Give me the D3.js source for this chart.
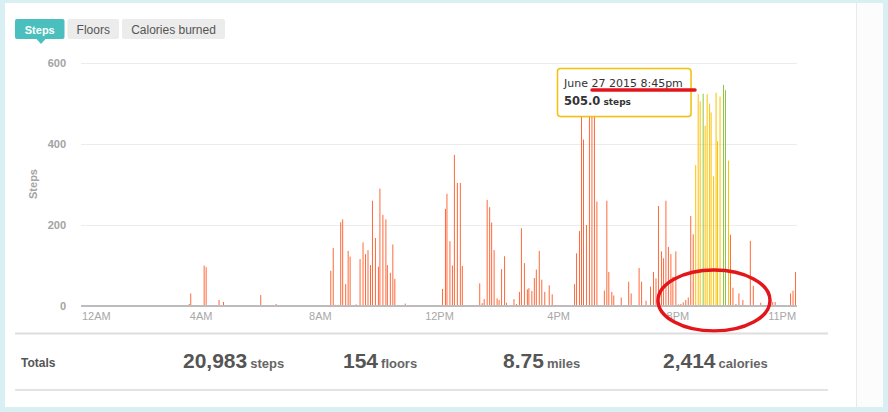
<!DOCTYPE html>
<html><head><meta charset="utf-8">
<script src="https://cdn.jsdelivr.net/npm/d3@7"></script>
<style>
html,body{margin:0;padding:0;background:#d8eff3;}
svg{display:block;font-family:"Liberation Sans",Arial,sans-serif;}
</style></head><body>
<svg id="c" width="888" height="412"></svg>
<script>
// ---- data (minute of day, steps in that minute) ----
const minutes = [216,219,246,250,276,285,360,391,
 501,506,510,516,521,525,531,536,540,552,560,566,571,576,581,585,591,597,600,606,612,615,621,626,630,651,
 726,732,735,741,746,750,756,762,766,
 801,806,810,816,821,825,830,836,840,845,851,855,870,875,881,885,891,897,900,906,911,915,921,926,932,941,947,
 992,996,1002,1006,1010,1016,1022,1027,1032,1037,
 1052,1057,1061,1067,1071,1086,1101,1106,1122,1127,1136,1145,1151,1156,1161,
 1167,1171,1176,1181,1186,1190,1196,1201,1206,1211,1216,1221,1226,1231,
 1236,1241,1245,1251,1255,1259,1264,1267,1272,1277,1280,1285,1292,1296,1302,
 1306,1311,1317,1323,1331,1346,1352,1367,1391,1396,1427,1432,1437];
const steps = [5,31,100,96,15,10,27,5,
 87,143,3,3,207,214,54,136,122,4,116,157,128,138,101,260,168,97,290,225,214,101,82,152,67,6,
 42,240,277,160,100,373,304,304,99,
 56,7,17,262,244,206,138,19,15,91,123,8,17,5,35,192,106,41,44,37,69,90,136,65,35,51,29,
 54,130,185,480,411,200,500,510,490,258,
 38,260,84,35,26,21,60,31,94,60,13,48,84,68,247,
 135,118,260,146,128,72,135,4,5,9,15,21,222,177,
 348,523,505,524,445,523,500,478,320,527,407,517,546,533,359,
 176,45,5,31,15,161,50,8,10,10,31,38,84];
const highlightRange = [1236, 1302];      // highlighted (yellow) period
const greenMinutes = [1251, 1292, 1296];  // very active minutes
const tooltipMinute = 1245;
const tooltipDate = "June 27 2015 8:45pm";

const yTicks = [0, 200, 400, 600];
const xTickMinutes = [0, 240, 480, 720, 960, 1200, 1410];
const xTickLabels = ["12AM", "4AM", "8AM", "12PM", "4PM", "8PM", "11PM"];
const tabs = ["Steps", "Floors", "Calories burned"];
const totalsValues = ["20,983", "154", "8.75", "2,414"];
const totalsUnits = ["steps", "floors", "miles", "calories"];

// ---- drawing ----
const svg = d3.select("#c");
const x = d3.scaleLinear().domain([0, 1440]).range([82, 797]);
const y = d3.scaleLinear().domain([0, 600]).range([306, 63]);

// panels
svg.append("rect").attr("x",5).attr("y",3).attr("width",878).attr("height",404).attr("fill","#fff");
svg.append("rect").attr("x",857).attr("y",3).attr("width",26).attr("height",404).attr("fill","#fcfcfc");
svg.append("line").attr("x1",856.5).attr("x2",856.5).attr("y1",3).attr("y2",407).attr("stroke","#e9e9e9");

// tabs
const tabX = [15, 67.5, 122], tabW = [49.5, 51.5, 103];
tabs.forEach((t,i)=>{
  svg.append("rect").attr("x",tabX[i]).attr("y",19).attr("width",tabW[i]).attr("height",20).attr("rx",2)
    .attr("fill", i===0 ? "#4abfbd" : "#ececec");
  svg.append("text").attr("x",tabX[i]+tabW[i]/2).attr("y",33.5).attr("text-anchor","middle")
    .attr("font-size", i===0 ? 11 : 12).attr("font-weight", i===0 ? "bold" : "normal")
    .attr("fill", i===0 ? "#fff" : "#555").text(t);
});
svg.append("path").attr("d","M36.5,39 L45.5,39 L41,44 Z").attr("fill","#4abfbd");

// grid + y labels
svg.selectAll(".grid").data(yTicks.filter(d=>d>0)).enter().append("line")
  .attr("x1",81).attr("x2",797).attr("y1",d=>Math.round(y(d))+0.5).attr("y2",d=>Math.round(y(d))+0.5)
  .attr("stroke","#ececec");
svg.selectAll(".ylab").data(yTicks).enter().append("text")
  .attr("x",66).attr("y",d=>y(d)).attr("dy","0.35em").attr("text-anchor","end")
  .attr("font-size",11).attr("font-weight","bold").attr("fill","#a3a3a3").text(d=>d);
svg.append("text").attr("transform","translate(37,184) rotate(-90)").attr("text-anchor","middle")
  .attr("font-size",11).attr("font-weight","bold").attr("fill","#a3a3a3").text("Steps");

// bars
const idx = d3.range(minutes.length);
svg.append("g").selectAll("rect").data(idx).enter().append("rect")
  .attr("x", i => x(minutes[i]) - 0.5)
  .attr("width", 1)
  .attr("y", i => y(steps[i]))
  .attr("height", i => y(0) - y(steps[i]))
  .attr("fill", i => {
    const m = minutes[i];
    if (greenMinutes.includes(m)) return "#8cc63f";
    if (m >= highlightRange[0] && m <= highlightRange[1]) return "#fcc200";
    return "#ff6a3c";
  });

// x axis line
svg.append("line").attr("x1",81).attr("x2",797).attr("y1",306).attr("y2",306)
  .attr("stroke","#bcbcbc").attr("stroke-width",2);

// x labels (justified inside plot)
xTickMinutes.forEach((m,i)=>{
  const t = svg.append("text").attr("x",x(m)).attr("y",319.5).attr("text-anchor","middle")
    .attr("font-size",11).attr("fill","#a8a8a8").text(xTickLabels[i]);
  const w = t.node().getComputedTextLength();
  if (x(m) - w/2 < 82) t.attr("text-anchor","start").attr("x",82);
  if (x(m) + w/2 > 797) t.attr("text-anchor","end").attr("x",797);
});

// tooltip
const tip = svg.append("g");
tip.append("rect").attr("x",558.5).attr("y",69.5).attr("width",133.5).attr("height",48).attr("rx",3)
  .attr("fill","rgba(0,0,0,0.08)");
tip.append("rect").attr("x",557.5).attr("y",68.5).attr("width",133.5).attr("height",48).attr("rx",3)
  .attr("fill","#fff").attr("stroke","#f3c20a").attr("stroke-width",1.5);
tip.append("text").attr("x",564).attr("y",86.5).attr("font-family","DejaVu Sans").attr("font-size",11)
  .attr("fill","#333").text(tooltipDate);
const tv = tip.append("text").attr("x",564).attr("y",104.5).attr("font-family","DejaVu Sans")
  .attr("font-weight","bold").attr("fill","#333");
tv.append("tspan").attr("font-size",11.5).text(steps[minutes.indexOf(tooltipMinute)].toFixed(1));
tv.append("tspan").attr("font-size",9).attr("dx",3).text("steps");

// annotations (red marks)
svg.append("line").attr("x1",592).attr("x2",695).attr("y1",90).attr("y2",90)
  .attr("stroke","#e3161c").attr("stroke-width",3.5).attr("stroke-linecap","round");
svg.append("ellipse").attr("cx",714).attr("cy",300.5).attr("rx",56).attr("ry",30.5)
  .attr("fill","none").attr("stroke","#e3161c").attr("stroke-width",3.5);

// totals
svg.append("line").attr("x1",15).attr("x2",828).attr("y1",333.5).attr("y2",333.5).attr("stroke","#dedede").attr("stroke-width",2);
svg.append("line").attr("x1",15).attr("x2",828).attr("y1",390).attr("y2",390).attr("stroke","#e3e3e3").attr("stroke-width",2);
svg.append("text").attr("x",21).attr("y",367).attr("font-size",12).attr("font-weight","bold").attr("fill","#555").text("Totals");
const colX = [183, 343, 503, 663];
totalsValues.forEach((v,i)=>{
  const t = svg.append("text").attr("x",colX[i]).attr("y",368).attr("font-size",21).attr("font-weight","bold")
    .attr("fill","#555").text(v);
  const w = t.node().getComputedTextLength();
  svg.append("text").attr("x",colX[i]+w+3).attr("y",368).attr("font-size",13).attr("font-weight","bold")
    .attr("fill","#666").text(totalsUnits[i]);
});
</script>
</body></html>
